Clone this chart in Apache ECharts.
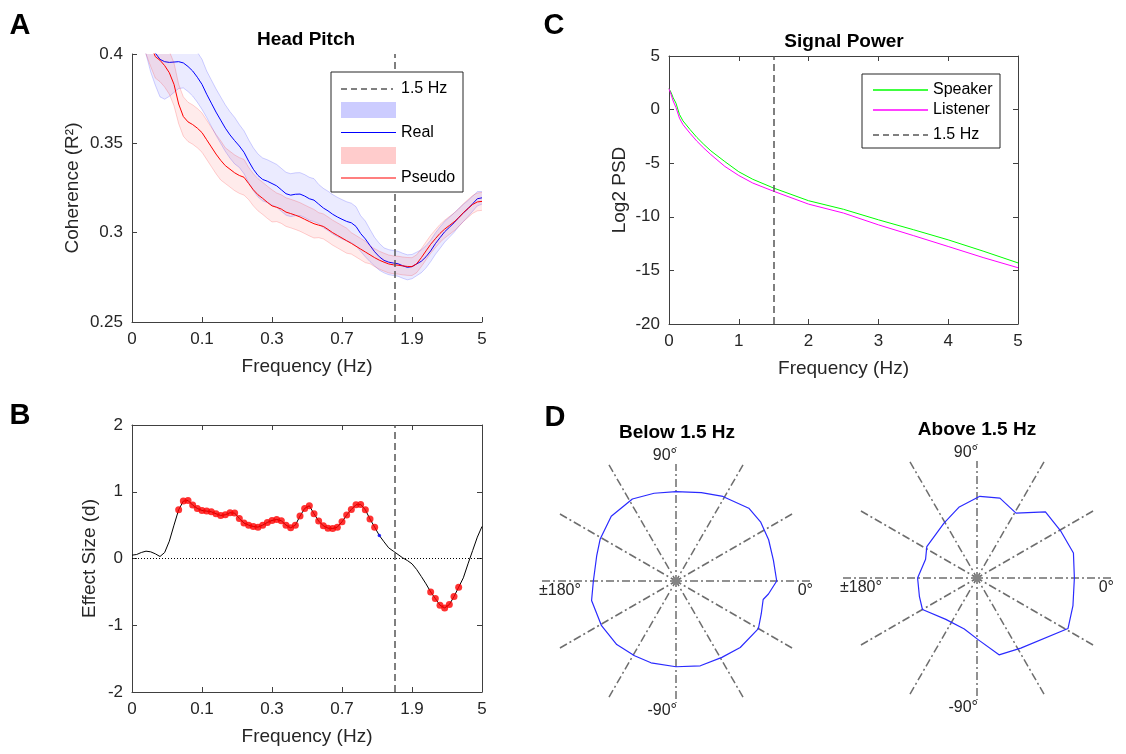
<!DOCTYPE html>
<html>
<head>
<meta charset="utf-8">
<script src="https://cdn.jsdelivr.net/npm/echarts@6/dist/echarts.min.js"></script>
<style>
  html, body { margin: 0; padding: 0; background: #ffffff; }
  #chart { width: 1126px; height: 754px; }
</style>
</head>
<body>
<div id="chart"></div>
<script>
// ---------------- data ----------------
// Warped frequency axis used by panels A and B: labels sit at evenly spaced positions
const freqTickLabels = ['0', '0.1', '0.3', '0.7', '1.9', '5'];
const freqTickValues = [0, 0.1, 0.3, 0.7, 1.9, 5];
const splitFreq = 1.5;
const samplesPerTick = 15;   // spectra are sampled 15 times per tick step

// A: head-pitch coherence, real pairs vs pseudo pairs (mean and band half-width)
const realMean = [
  0.44, 0.43, 0.42, 0.412, 0.405, 0.4005, 0.397, 0.3957, 0.3953, 0.3955,
  0.3957, 0.395, 0.393, 0.3905, 0.387, 0.383, 0.3775, 0.3725, 0.3675, 0.363,
  0.3585, 0.3547, 0.3515, 0.3485, 0.345, 0.34, 0.3355, 0.332, 0.3298, 0.3288,
  0.3275, 0.3262, 0.324, 0.3218, 0.321, 0.3215, 0.3216, 0.3205, 0.319, 0.3182,
  0.316, 0.3138, 0.3122, 0.3103, 0.3088, 0.3075, 0.3063, 0.3055, 0.3035, 0.2995,
  0.2965, 0.2928, 0.2893, 0.2865, 0.2845, 0.2835, 0.283, 0.2826, 0.2815, 0.2806,
  0.281, 0.2825, 0.284, 0.2865, 0.2898, 0.2938, 0.2972, 0.3005, 0.303, 0.3055,
  0.3085, 0.311, 0.3135, 0.3162, 0.319, 0.3195
];
const realErr = [
  0.012, 0.012, 0.012, 0.012, 0.015, 0.018, 0.021, 0.021, 0.019, 0.017,
  0.015, 0.014, 0.014, 0.014, 0.014, 0.014, 0.013, 0.013, 0.013, 0.013,
  0.013, 0.013, 0.013, 0.012, 0.012, 0.012, 0.012, 0.012, 0.012, 0.012,
  0.012, 0.012, 0.012, 0.012, 0.012, 0.012, 0.012, 0.012, 0.012, 0.012,
  0.011, 0.011, 0.011, 0.011, 0.011, 0.011, 0.011, 0.011, 0.011, 0.010,
  0.010, 0.009, 0.008, 0.0075, 0.007, 0.007, 0.007, 0.007, 0.007, 0.007,
  0.0068, 0.0066, 0.0064, 0.0062, 0.006, 0.006, 0.006, 0.0058, 0.0056, 0.0054,
  0.005, 0.0048, 0.0045, 0.0042, 0.004, 0.0035
];
const pseudoMean = [
  0.44, 0.43, 0.42, 0.412, 0.405, 0.3985, 0.3965, 0.3935, 0.3895, 0.383,
  0.372, 0.365, 0.362, 0.3605, 0.3585, 0.356, 0.352, 0.348, 0.344, 0.3405,
  0.3375, 0.3355, 0.3335, 0.332, 0.331, 0.3275, 0.324, 0.3212, 0.3192, 0.317,
  0.315, 0.3142, 0.3132, 0.3115, 0.3107, 0.3098, 0.3088, 0.3075, 0.3062, 0.305,
  0.3042, 0.3035, 0.3018, 0.3, 0.2985, 0.297, 0.2955, 0.294, 0.2924, 0.2908,
  0.2892, 0.2876, 0.286, 0.2846, 0.2835, 0.2825, 0.282, 0.2818, 0.2814, 0.2811,
  0.281, 0.2826, 0.286, 0.2898, 0.2935, 0.2966, 0.2996, 0.302, 0.304, 0.306,
  0.3083, 0.3112, 0.3135, 0.3158, 0.3172, 0.3175
];
const pseudoErr = [
  0.012, 0.012, 0.012, 0.012, 0.012, 0.012, 0.012, 0.012, 0.012, 0.012,
  0.011, 0.011, 0.011, 0.011, 0.011, 0.011, 0.011, 0.011, 0.011, 0.011,
  0.01, 0.01, 0.01, 0.01, 0.01, 0.009, 0.009, 0.009, 0.009, 0.009,
  0.009, 0.008, 0.008, 0.008, 0.008, 0.008, 0.008, 0.008, 0.008, 0.008,
  0.007, 0.007, 0.007, 0.007, 0.007, 0.007, 0.007, 0.006, 0.006, 0.006,
  0.006, 0.005, 0.005, 0.005, 0.005, 0.005, 0.005, 0.005, 0.005, 0.005,
  0.005, 0.005, 0.005, 0.005, 0.005, 0.005, 0.005, 0.005, 0.005, 0.005,
  0.005, 0.005, 0.005, 0.005, 0.005, 0.005
];

// B: effect size (Cohen's d) of real vs pseudo coherence
const effectSize = [
  0.05, 0.06, 0.09, 0.11, 0.10, 0.07, 0.03, 0.09, 0.26, 0.50,
  0.73, 0.86, 0.87, 0.80, 0.75, 0.72, 0.71, 0.70, 0.67, 0.645,
  0.655, 0.685, 0.68, 0.60, 0.53, 0.50, 0.48, 0.47, 0.50, 0.54,
  0.57, 0.585, 0.565, 0.50, 0.46, 0.50, 0.635, 0.75, 0.79, 0.67,
  0.56, 0.49, 0.455, 0.45, 0.47, 0.55, 0.65, 0.735, 0.805, 0.81,
  0.73, 0.59, 0.47, 0.345, 0.25, 0.16, 0.11, 0.06, 0.01, -0.03,
  -0.08, -0.165, -0.27, -0.38, -0.50, -0.60, -0.70, -0.74, -0.69, -0.57,
  -0.43, -0.29, -0.08, 0.12, 0.32, 0.48
];
const significantRanges = [[10, 52], [64, 70]];   // sample index ranges, inclusive
const trendIndices = [53];

// C: log2 power spectral density
const psdFreq = [0, 0.03, 0.06, 0.1, 0.15, 0.2, 0.3, 0.4, 0.5, 0.6, 0.8, 1.0, 1.2, 1.5, 2.0, 2.5, 3.0, 3.5, 4.0, 4.5, 5.0];
const speakerPsd = [1.95, 1.6, 1.1, 0.6, -0.45, -1.05, -1.85, -2.6, -3.25, -3.85, -4.85, -5.8, -6.5, -7.32, -8.5, -9.3, -10.28, -11.2, -12.15, -13.2, -14.3];
const listenerPsd = [1.95, 1.4, 0.8, 0.2, -0.8, -1.4, -2.2, -2.95, -3.6, -4.2, -5.3, -6.15, -6.85, -7.62, -8.82, -9.65, -10.75, -11.75, -12.77, -13.8, -14.75];

// D: phase distributions below / above 1.5 Hz (angle in degrees, radius in %)
const belowAngle = [0, 12, 24, 35, 45, 61, 74, 90, 104, 118, 135, 151, 162, 180, 193, 211, 227, 241, 253, 270, 286, 301, 314, 330, 339, 348, 352];
const belowRadius = [4.51, 4.46, 4.54, 4.62, 4.61, 4.33, 4.12, 4.0, 4.05, 4.16, 4.10, 3.88, 3.73, 3.70, 3.88, 3.89, 3.89, 3.83, 3.83, 3.84, 3.95, 3.99, 4.14, 4.26, 4.09, 3.99, 4.18];
const aboveAngle = [0, 14.5, 29, 44, 59, 74, 88, 104, 121, 148, 160, 180, 198, 210, 233, 256, 271, 286, 302, 331, 344];
const aboveRadius = [4.36, 4.46, 4.30, 4.26, 3.39, 3.72, 3.66, 3.28, 2.87, 2.65, 2.45, 2.66, 2.71, 2.82, 2.32, 2.35, 2.76, 3.58, 3.70, 4.66, 4.47];
const polarRadiusMax = 6;
const polarTickLabels = ['0°', '90°', '±180°', '-90°'];

// ---------------- helpers ----------------
const FONT = '"Liberation Sans", Arial, Helvetica, sans-serif';
const AXIS = '#404040';
const TEXT = '#262626';

// position of a frequency on the warped A/B axis
function freqToPos(f) {
  for (let k = 1; k < freqTickValues.length; k++) {
    const a = freqTickValues[k - 1], b = freqTickValues[k];
    if (f <= b) {
      if (a === 0) return (k - 1) + f / b;
      return (k - 1) + Math.log(f / a) / Math.log(b / a);
    }
  }
  return freqTickValues.length - 1;
}
const splitPos = freqToPos(splitFreq);
const samplePos = realMean.map((_, i) => i / samplesPerTick);

function pairs(xs, ys) { return ys.map((y, i) => [xs[i], y]); }

function axisBase(gridIndex, position, showLabels, extra) {
  return Object.assign({
    gridIndex, position, type: 'value',
    axisLine: { show: true, onZero: false, lineStyle: { color: AXIS, width: 1 } },
    axisTick: { show: true, inside: true, length: 5, lineStyle: { color: AXIS, width: 1 } },
    axisLabel: { show: showLabels, color: TEXT, fontSize: 17, fontFamily: FONT, margin: 9, showMinLabel: true, showMaxLabel: true },
    splitLine: { show: false },
    nameTextStyle: { color: TEXT, fontSize: 19, fontFamily: FONT }
  }, extra || {});
}

function freqXAxis(gridIndex, position, showLabels) {
  const ax = axisBase(gridIndex, position, showLabels, { min: 0, max: 5, interval: 1 });
  ax.axisLabel.formatter = v => freqTickLabels[Math.round(v)] ?? '';
  if (showLabels) {
    ax.name = 'Frequency (Hz)';
    ax.nameLocation = 'middle';
    ax.nameGap = 35;
  }
  return ax;
}

const dashed15 = { color: '#555555', width: 1.5, type: [7, 4] };

// Shaded confidence band: filled polygon between mean-err and mean+err, with thin edges
function bandSeries(mean, err, fill, edge, z) {
  const lo = mean.map((m, i) => m - err[i]);
  const hi = mean.map((m, i) => m + err[i]);
  return [
    {
      type: 'custom', xAxisIndex: 0, yAxisIndex: 0, clip: true, silent: true, z,
      data: samplePos.map((x, i) => [x, lo[i], hi[i]]),
      encode: { x: 0, y: [1, 2] },
      renderItem: (params, api) => {
        if (params.dataIndex !== 0) return null;
        const up = hi.map((v, i) => api.coord([samplePos[i], v]));
        const dn = lo.map((v, i) => api.coord([samplePos[i], v])).reverse();
        const cs = params.coordSys;
        return {
          type: 'polygon',
          shape: { points: up.concat(dn) },
          style: { fill, stroke: null },
          clipPath: { type: 'rect', shape: { x: cs.x, y: cs.y, width: cs.width, height: cs.height } }
        };
      }
    },
    { type: 'line', xAxisIndex: 0, yAxisIndex: 0, data: pairs(samplePos, lo), symbol: 'none', silent: true,
      lineStyle: { color: edge, width: 1 }, z },
    { type: 'line', xAxisIndex: 0, yAxisIndex: 0, data: pairs(samplePos, hi), symbol: 'none', silent: true,
      lineStyle: { color: edge, width: 1 }, z }
  ];
}

// ---------------- series ----------------
const sigPoints = [];
significantRanges.forEach(([a, b]) => { for (let i = a; i <= b; i++) sigPoints.push([samplePos[i], effectSize[i]]); });
const trendPoints = trendIndices.map(i => [samplePos[i], effectSize[i]]);

function closed(angles, radii) {
  const d = radii.map((r, i) => [r, angles[i]]);
  d.push([radii[0], angles[0]]);
  return d;
}

const series = [].concat(
  // ---- A ----
  bandSeries(realMean, realErr, 'rgba(0,0,255,0.08)', 'rgba(0,0,255,0.18)', 1),
  [{ type: 'line', xAxisIndex: 0, yAxisIndex: 0, data: pairs(samplePos, realMean), symbol: 'none', silent: true,
    lineStyle: { color: '#0000ff', width: 1 }, z: 2,
    markLine: { silent: true, symbol: ['none', 'none'], label: { show: false }, lineStyle: dashed15, data: [{ xAxis: splitPos }] } }],
  bandSeries(pseudoMean, pseudoErr, 'rgba(255,0,0,0.08)', 'rgba(255,0,0,0.18)', 3),
  [{ type: 'line', xAxisIndex: 0, yAxisIndex: 0, data: pairs(samplePos, pseudoMean), symbol: 'none', silent: true,
    lineStyle: { color: '#ff0000', width: 1 }, z: 4 }],

  // ---- B ----
  [
    { type: 'line', xAxisIndex: 1, yAxisIndex: 1, data: pairs(samplePos, effectSize), symbol: 'none', silent: true,
      lineStyle: { color: '#000000', width: 1 }, z: 2,
      markLine: { silent: true, symbol: ['none', 'none'], label: { show: false },
        data: [
          { xAxis: splitPos, lineStyle: dashed15 },
          { yAxis: 0, lineStyle: { color: '#000000', width: 1, type: [1, 2] } }
        ] } },
    { type: 'scatter', xAxisIndex: 1, yAxisIndex: 1, data: sigPoints, symbol: 'circle', symbolSize: 7, silent: true,
      itemStyle: { color: '#ff0000' }, z: 3 },
    { type: 'scatter', xAxisIndex: 1, yAxisIndex: 1, data: trendPoints, symbol: 'circle', symbolSize: 3.5, silent: true,
      itemStyle: { color: '#0000ff' }, z: 3 }
  ],

  // ---- C ----
  [
    { type: 'line', xAxisIndex: 3, yAxisIndex: 3, data: pairs(psdFreq, speakerPsd), symbol: 'none', silent: true,
      lineStyle: { color: '#00ff00', width: 1 }, z: 2,
      markLine: { silent: true, symbol: ['none', 'none'], label: { show: false }, lineStyle: dashed15, data: [{ xAxis: splitFreq }] } },
    { type: 'line', xAxisIndex: 3, yAxisIndex: 3, data: pairs(psdFreq, listenerPsd), symbol: 'none', silent: true,
      lineStyle: { color: '#ff00ff', width: 1 }, z: 3 }
  ],

  // ---- D ----
  [
    { type: 'line', coordinateSystem: 'polar', polarIndex: 0, data: closed(belowAngle, belowRadius), symbol: 'none', silent: true,
      lineStyle: { color: '#2a2aff', width: 1.2 }, z: 3 },
    { type: 'scatter', coordinateSystem: 'polar', polarIndex: 0, data: [[0, 0]], symbol: 'circle', symbolSize: 7, silent: true,
      itemStyle: { color: '#8a8a8a' }, z: 2 },
    { type: 'line', coordinateSystem: 'polar', polarIndex: 1, data: closed(aboveAngle, aboveRadius), symbol: 'none', silent: true,
      lineStyle: { color: '#2a2aff', width: 1.2 }, z: 3 },
    { type: 'scatter', coordinateSystem: 'polar', polarIndex: 1, data: [[0, 0]], symbol: 'circle', symbolSize: 7, silent: true,
      itemStyle: { color: '#8a8a8a' }, z: 2 }
  ]
);

// ---------------- static texts, legends ----------------
function txt(x, y, text, size, bold, align, color, bg) {
  const style = {
    text, fill: color || '#000000', fontSize: size, fontWeight: bold ? 'bold' : 'normal', fontFamily: FONT,
    textAlign: align || 'center', align: align || 'center', textVerticalAlign: 'middle', verticalAlign: 'middle'
  };
  if (bg) { style.backgroundColor = bg; style.padding = [0, 1, 0, 1]; }
  return { type: 'text', x, y, z: 100, silent: true, style };
}
function seg(x1, y1, x2, y2, color, dash, width) {
  return { type: 'line', z: 101, silent: true, shape: { x1, y1, x2, y2 },
    style: { stroke: color, lineWidth: width || 1, lineDash: dash || null } };
}
function box(x, y, w, h, fill, stroke) {
  return { type: 'rect', z: 100, silent: true, shape: { x, y, width: w, height: h },
    style: { fill, stroke: stroke || null, lineWidth: 1 } };
}

const polarCenters = [[676, 581], [977, 578]];
const polarLabelEls = [];
polarCenters.forEach(([cx, cy]) => {
  polarLabelEls.push(txt(cx + 137, cy + 10, polarTickLabels[0], 16, false, 'right', TEXT));
  polarLabelEls.push(txt(cx + 2, cy - 125, polarTickLabels[1], 16, false, 'right', TEXT, '#ffffff'));
  polarLabelEls.push(txt(cx - 137, cy + 10, polarTickLabels[2], 16, false, 'left', TEXT));
  polarLabelEls.push(txt(cx + 2, cy + 130, polarTickLabels[3], 16, false, 'right', TEXT, '#ffffff'));
});

const graphics = [
  // panel letters
  txt(20, 26, 'A', 29, true), txt(20, 416, 'B', 29, true),
  txt(554, 26, 'C', 29, true), txt(555, 418, 'D', 29, true),
  // titles
  txt(306, 40, 'Head Pitch', 19, true), txt(844, 42, 'Signal Power', 19, true),
  txt(677, 433, 'Below 1.5 Hz', 19, true), txt(977, 430, 'Above 1.5 Hz', 19, true),

  // legend A
  box(331, 72, 132, 120, '#ffffff', '#262626'),
  seg(341, 89, 393, 89, '#000000', [6, 4]),
  txt(401, 89, '1.5 Hz', 16, false, 'left'),
  box(341, 102, 55, 16, 'rgba(0,0,255,0.2)'),
  seg(341, 132.5, 396, 132.5, '#0000ff', null, 1.2),
  txt(401, 133, 'Real', 16, false, 'left'),
  box(341, 147, 55, 17, 'rgba(255,0,0,0.2)'),
  seg(341, 178, 396, 178, '#ff0000', null, 1.2),
  txt(401, 178, 'Pseudo', 16, false, 'left'),

  // legend C
  box(862, 74, 138, 74, '#ffffff', '#262626'),
  seg(873, 90, 928, 90, '#00ff00', null, 1.3),
  txt(933, 90, 'Speaker', 16, false, 'left'),
  seg(873, 110, 928, 110, '#ff00ff', null, 1.3),
  txt(933, 110, 'Listener', 16, false, 'left'),
  seg(873, 135, 928, 135, '#000000', [6, 4]),
  txt(933, 135, '1.5 Hz', 16, false, 'left')
].concat(polarLabelEls);

// ---------------- option ----------------
const option = {
  animation: false,
  backgroundColor: '#ffffff',
  textStyle: { fontFamily: FONT },
  grid: [
    { left: 132, top: 54, width: 350, height: 268, containLabel: false, outerBoundsMode: 'none' },
    { left: 132, top: 425, width: 350, height: 267, containLabel: false, outerBoundsMode: 'none' },
    { left: 669, top: 56, width: 349, height: 268, containLabel: false, outerBoundsMode: 'none' }
  ],
  xAxis: [
    freqXAxis(0, 'bottom', true),
    freqXAxis(1, 'bottom', true),
    freqXAxis(1, 'top', false),
    axisBase(2, 'bottom', true, { min: 0, max: 5, interval: 1, name: 'Frequency (Hz)', nameLocation: 'middle', nameGap: 35 }),
    axisBase(2, 'top', false, { min: 0, max: 5, interval: 1 })
  ],
  yAxis: [
    axisBase(0, 'left', true, { min: 0.25, max: 0.4, interval: 0.05, name: 'Coherence (R²)', nameLocation: 'middle', nameGap: 50 }),
    axisBase(1, 'left', true, { min: -2, max: 2, interval: 1, name: 'Effect Size (d)', nameLocation: 'middle', nameGap: 33 }),
    axisBase(1, 'right', false, { min: -2, max: 2, interval: 1 }),
    axisBase(2, 'left', true, { min: -20, max: 5, interval: 5, name: 'Log2 PSD', nameLocation: 'middle', nameGap: 40 }),
    axisBase(2, 'right', false, { min: -20, max: 5, interval: 5 })
  ],
  polar: polarCenters.map(c => ({ center: c, radius: 134 })),
  angleAxis: [0, 1].map(k => ({
    polarIndex: k, type: 'value', min: 0, max: 360, interval: 30, startAngle: 0, clockwise: false,
    axisLine: { show: false }, axisTick: { show: false }, axisLabel: { show: false },
    splitLine: { show: true, lineStyle: { color: '#6e6e6e', width: 1.5, type: [8, 3, 2, 3] } },
    splitArea: { show: false }
  })),
  radiusAxis: [0, 1].map(k => ({
    polarIndex: k, type: 'value', min: 0, max: polarRadiusMax,
    axisLine: { show: false }, axisTick: { show: false }, axisLabel: { show: false },
    splitLine: { show: false }, splitArea: { show: false }
  })),
  series,
  graphic: { elements: graphics }
};
option.yAxis[0].axisLabel.formatter = v => String(+v.toFixed(2));

const chart = echarts.init(document.getElementById('chart'), null, { renderer: 'canvas', width: 1126, height: 754 });
chart.setOption(option);
</script>
</body>
</html>
